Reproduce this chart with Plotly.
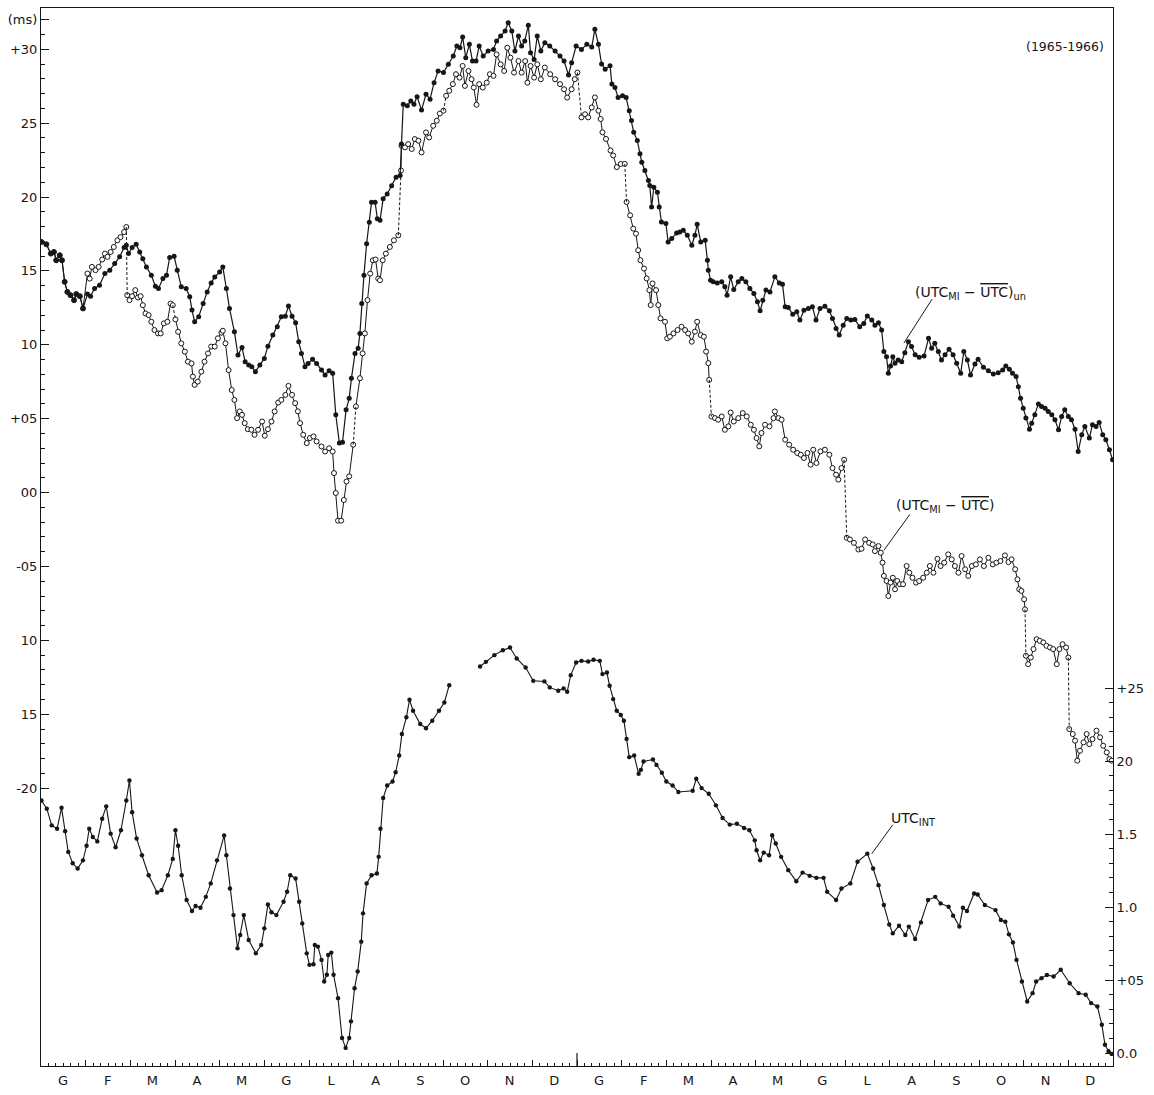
import plotly.graph_objects as go

# ---------------- data ----------------
MONTH_LABELS = ["G", "F", "M", "A", "M", "G", "L", "A", "S", "O", "N", "D"] * 2
LEFT_TICK_VALS = [32, 30, 25, 20, 15, 10, 5, 0, -5, -10, -15, -20]
LEFT_TICK_TEXT = ["(ms)", "+30", "25", "20", "15", "10", "+05", "00", "-05", "10", "15", "-20"]
RIGHT_TICK_VALS = [0, 0.5, 1.0, 1.5, 2.0, 2.5]
RIGHT_TICK_TEXT = ["0.0", "+05", "1.0", "1.5", "20", "+25"]

# (UTC_MI - UTC)_un  : month index (0..24) and value (ms, left axis)
A_m = [0.01, 0.12, 0.22, 0.29, 0.34, 0.42, 0.47, 0.53, 0.59, 0.66, 0.74, 0.79, 0.87, 0.94,
       1.04, 1.11, 1.20, 1.31, 1.43, 1.54, 1.65, 1.76, 1.86, 1.91, 1.96, 2.04, 2.13, 2.21,
       2.28, 2.36, 2.47, 2.56, 2.63, 2.73, 2.81, 2.88, 2.98, 3.05, 3.14, 3.25, 3.33, 3.38,
       3.44, 3.53, 3.63, 3.72, 3.81, 3.89, 4.00, 4.07, 4.15, 4.22, 4.33, 4.41, 4.50, 4.57,
       4.65, 4.72, 4.80, 4.90, 5.00, 5.08, 5.19, 5.29, 5.38, 5.47, 5.54, 5.62, 5.70, 5.77,
       5.83, 5.91, 5.98, 6.08, 6.17, 6.28, 6.36, 6.45, 6.53, 6.60, 6.68, 6.75, 6.83, 6.90,
       6.95, 7.03, 7.10, 7.14, 7.18, 7.23, 7.29, 7.35, 7.40, 7.48, 7.53, 7.59, 7.66, 7.75,
       7.85, 7.95, 8.04, 8.07, 8.11, 8.20, 8.28, 8.35, 8.42, 8.52, 8.62, 8.71, 8.80, 8.89,
       9.01, 9.12, 9.23, 9.31, 9.38, 9.44, 9.51, 9.59, 9.66, 9.74, 9.81, 9.90, 10.01, 10.13,
       10.20, 10.29, 10.39, 10.46, 10.54, 10.61, 10.69, 10.76, 10.83, 10.91, 10.96, 11.04,
       11.11, 11.19, 11.28, 11.39, 11.51, 11.62, 11.71, 11.81, 11.88, 11.98, 12.10, 12.22,
       12.33, 12.40, 12.48, 12.55, 12.63, 12.74, 12.78, 12.85, 12.92, 13.02, 13.10, 13.17,
       13.22, 13.27, 13.35, 13.41, 13.45, 13.52, 13.60, 13.63, 13.67, 13.72, 13.80, 13.84,
       13.89, 13.99, 14.04, 14.12, 14.23, 14.30, 14.38, 14.47, 14.57, 14.64, 14.69, 14.77,
       14.87, 14.92, 14.94, 14.99, 15.05, 15.14, 15.24, 15.31, 15.36, 15.44, 15.51, 15.61,
       15.69, 15.78, 15.87, 15.96, 16.04, 16.10, 16.16, 16.23, 16.32, 16.43, 16.53, 16.60,
       16.66, 16.73, 16.83, 16.92, 16.99, 17.08, 17.18, 17.27, 17.35, 17.44, 17.55, 17.65,
       17.72, 17.80, 17.87, 17.96, 18.04, 18.13, 18.22, 18.33, 18.42, 18.50, 18.60, 18.67,
       18.75, 18.82, 18.87, 18.93, 18.97, 19.02, 19.07, 19.12, 19.19, 19.27, 19.34, 19.42,
       19.49, 19.57, 19.66, 19.77, 19.87, 19.94, 20.01, 20.09, 20.16, 20.24, 20.33, 20.42,
       20.50, 20.59, 20.66, 20.74, 20.81, 20.91, 20.98, 21.10, 21.21, 21.32, 21.43, 21.53,
       21.60, 21.68, 21.75, 21.83, 21.88, 21.93, 21.99, 22.05, 22.13, 22.18, 22.25, 22.33,
       22.40, 22.48, 22.55, 22.63, 22.70, 22.78, 22.85, 22.92, 23.00, 23.07, 23.15, 23.22,
       23.30, 23.37, 23.47, 23.54, 23.62, 23.69, 23.77, 23.84, 23.92, 23.99]
A_v = [16.96, 16.8, 16.17, 16.28, 15.72, 16.06, 15.72, 14.26, 13.58, 13.36, 13.02, 13.43, 13.29, 12.46,
       13.43, 13.29, 13.81, 14.03, 14.82, 15.05, 15.5, 15.95, 16.58, 16.74, 16.17, 16.58, 16.8, 16.28,
       15.83, 15.27, 14.71, 13.97, 13.81, 14.48, 14.71, 15.9, 15.99, 15.05, 13.92, 13.81, 13.25, 12.36,
       11.56, 11.9, 12.8, 13.58, 14.19, 14.59, 14.93, 15.27, 13.81, 12.46, 10.88, 9.31, 9.82, 8.86,
       8.63, 8.52, 8.18, 8.63, 9.08, 9.91, 10.66, 11.22, 11.9, 11.94, 12.62, 11.94, 11.5, 10.2,
       9.42, 8.52, 8.74, 9.02, 8.74, 8.29, 7.96, 8.25, 8.07, 5.26, 3.35, 3.4, 5.6, 6.38,
       7.73, 9.42, 9.76, 10.77, 12.79, 14.7, 16.84, 18.3, 19.65, 19.65, 18.53, 18.42, 19.88, 20.21,
       20.77, 21.34, 21.45, 23.58, 26.28, 26.17, 26.5, 26.28, 26.78, 25.88, 26.96, 26.62, 27.74, 28.53,
       28.42, 28.98, 29.54, 30.22, 30.1, 30.82, 29.43, 30.33, 29.2, 29.2, 30.22, 29.54, 29.88, 29.99,
       30.55, 30.89, 31.23, 31.8, 31.23, 29.88, 30.89, 30.22, 30.55, 31.63, 29.76, 29.31,
       30.89, 29.88, 30.44, 30.22, 29.88, 29.54, 29.2, 28.26, 29.09, 30.22, 29.99, 30.33,
       30.15, 31.35, 30.33, 29.0, 28.65, 28.88, 27.64, 27.41, 26.74, 26.85, 26.74, 25.84,
       25.17, 24.38, 23.82, 22.92, 22.35, 21.79, 21.11, 20.78, 19.32, 20.66, 20.32, 19.32,
       18.31, 18.2, 16.96, 17.19, 17.57, 17.64, 17.75, 17.41, 16.74, 17.41, 18.15, 16.96,
       17.07, 15.72, 15.05, 14.37, 14.26, 14.19, 14.26, 13.92, 13.36, 14.6, 13.74, 14.26,
       14.48, 14.26, 13.81, 13.47, 12.91, 12.3, 13.02, 13.7, 13.58, 14.6, 14.19, 14.1,
       12.57, 12.52, 12.07, 12.23, 11.67, 12.34, 12.45, 12.57, 11.67, 12.45, 12.61, 12.3,
       11.78, 11.11, 10.66, 11.33, 11.78, 11.67, 11.72, 11.22, 11.45, 11.95, 11.67, 11.33,
       11.49, 11.0, 9.54, 9.2, 8.07, 8.57, 9.2, 8.75, 8.97, 8.86, 9.47, 10.21,
       9.88, 9.32, 9.16, 9.25, 10.44, 9.76, 10.1, 9.54, 8.97, 9.32, 9.7, 9.32,
       8.75, 8.07, 9.54, 8.97, 7.96, 8.7, 9.02, 8.48, 8.25, 8.02, 8.11, 8.29,
       8.57, 8.34, 8.07, 7.85, 7.17, 6.38, 5.71, 5.04, 4.29, 4.7, 5.26, 6.0,
       5.83, 5.71, 5.49, 5.26, 4.93, 4.25, 5.15, 5.6, 5.15, 4.93, 4.29, 2.78,
       3.91, 4.48, 3.69, 4.59, 4.48, 4.75, 3.91, 3.58, 2.9, 2.22]

# (UTC_MI - UTC) : None marks a dashed (step-adjustment) jump
B_m = [0.01, 0.12, 0.22, 0.29, 0.34, 0.42, 0.47, 0.53, 0.59, 0.66, 0.74, 0.79, 0.87, 0.94,
       1.04, 1.09, 1.14, 1.22, 1.29, 1.37, 1.43, 1.49, 1.56, 1.63, 1.71, 1.78, 1.86, 1.91, None,
       1.93, 1.98, 2.04, 2.11, 2.17, 2.23, 2.28, 2.34, 2.41, 2.47, 2.54, 2.62, 2.68, 2.75, 2.83,
       2.90, 2.95, None,
       3.01, 3.07, 3.14, 3.22, 3.29, 3.37, 3.40, 3.44, 3.51, 3.59, 3.66, 3.74, 3.81, 3.89, 3.96,
       4.04, 4.07, 4.13, 4.20, 4.27, 4.33, 4.39, 4.45, 4.50, 4.56, 4.63, 4.71, 4.78, 4.86, 4.95,
       5.01, 5.08, 5.16, 5.23, 5.31, 5.38, 5.47, 5.54, 5.62, 5.69, 5.75, 5.80, 5.87, 5.95, 6.02,
       6.10, 6.17, 6.28, 6.36, 6.45, 6.53, 6.56, 6.60, 6.65, 6.72, 6.78, 6.84, 6.90, 6.99, None,
       7.05, 7.14, 7.20, 7.25, 7.31, 7.37, 7.43, 7.49, 7.55, 7.59, 7.65, 7.72, 7.81, 7.90, 8.00, None,
       8.06, 8.07, 8.15, 8.22, 8.30, 8.37, 8.45, 8.52, 8.62, 8.69, 8.78, 8.86, 8.93, 9.01, None,
       9.07, 9.14, 9.22, 9.29, 9.37, 9.44, 9.49, 9.57, 9.64, 9.69, 9.75, 9.81, 9.89, 9.98, 10.05,
       10.13, 10.20, 10.29, 10.37, 10.44, 10.51, 10.59, 10.69, 10.76, 10.84, 10.89, 10.96, 11.04,
       11.11, 11.19, 11.28, 11.40, 11.51, 11.62, 11.71, 11.78, 11.88, 11.95, 12.01, None,
       12.10, 12.18, 12.25, 12.33, 12.40, 12.48, 12.53, 12.57, 12.65, 12.75, 12.81, 12.89, 12.98,
       13.07, None,
       13.11, 13.19, 13.26, 13.32, 13.37, 13.42, 13.50, 13.56, 13.62, 13.65, 13.69, 13.77, 13.82,
       13.87, 13.97, 14.02, 14.08, 14.16, 14.25, 14.34, 14.42, 14.49, 14.57, 14.64, 14.69, 14.77,
       14.84, 14.89, 14.94, 14.96, None,
       15.01, 15.09, 15.16, 15.24, 15.31, 15.39, 15.44, 15.51, 15.61, 15.71, 15.80, 15.89, 15.96,
       16.02, 16.08, 16.13, 16.21, 16.31, 16.40, 16.43, 16.51, 16.58, 16.66, 16.75, 16.84, 16.93,
       17.01, 17.08, 17.16, 17.23, 17.29, 17.36, 17.45, 17.55, 17.65, 17.72, 17.80, 17.85, 17.92,
       17.98, None,
       18.04, 18.11, 18.20, 18.30, 18.37, 18.45, 18.54, 18.62, 18.67, 18.75, 18.80, 18.84, 18.87,
       18.93, 18.97, 19.02, 19.07, 19.12, 19.17, 19.23, 19.30, 19.38, 19.44, 19.51, 19.59, 19.66,
       19.75, 19.83, 19.90, 19.98, 20.07, 20.14, 20.22, 20.31, 20.39, 20.46, 20.54, 20.61, 20.69,
       20.76, 20.84, 20.93, 21.02, 21.11, 21.21, 21.31, 21.39, 21.48, 21.58, 21.66, 21.73, 21.81,
       21.86, 21.90, 21.95, 22.01, 22.03, None,
       22.05, 22.10, 22.16, 22.22, 22.29, 22.36, 22.44, 22.51, 22.59, 22.66, 22.74, 22.80, 22.87,
       22.95, 23.00, None,
       23.02, 23.10, 23.15, 23.20, 23.26, 23.34, 23.41, 23.47, 23.54, 23.63, 23.71, 23.78, 23.86,
       23.92, 23.97]
B_v = [16.96, 16.8, 16.17, 16.28, 15.72, 16.06, 15.72, 14.26, 13.58, 13.36, 13.02, 13.43, 13.29, 12.46,
       14.82, 14.48, 15.27, 15.05, 15.27, 15.77, 16.17, 15.95, 16.28, 16.62, 17.07, 17.29, 17.63, 17.97, None,
       13.36, 13.02, 13.29, 13.7, 13.2, 13.29, 12.68, 12.12, 12.01, 11.56, 11.0, 10.77, 10.77, 11.45, 11.56,
       12.79, 12.68, None,
       11.72, 10.88, 10.1, 9.54, 8.86, 8.74, 7.85, 7.29, 7.51, 8.18, 8.86, 9.42, 9.88, 9.88, 10.44,
       10.82, 10.95, 10.1, 8.29, 6.94, 6.27, 5.04, 5.49, 5.26, 4.7, 4.29, 4.25, 3.91, 4.25, 4.81,
       3.85, 4.29, 4.81, 5.49, 6.09, 6.27, 6.61, 7.22, 6.61, 6.05, 5.5, 4.7, 3.91, 3.35, 3.69,
       3.8, 3.46, 3.12, 2.78, 3.0, 2.78, 1.32, -0.03, -1.9, -1.9, -0.5, 0.75, 1.1, 3.24, None,
       5.83, 7.74, 9.42, 10.77, 13.02, 14.82, 15.72, 15.77, 14.48, 14.37, 15.72, 16.17, 16.62, 17.07, 17.41, None,
       21.79, 23.47, 23.36, 23.58, 23.25, 23.92, 23.81, 23.02, 24.37, 24.03, 24.82, 25.16, 25.65, 25.84, None,
       26.85, 27.19, 27.64, 28.31, 28.08, 28.87, 27.52, 28.53, 27.97, 27.41, 26.24, 27.64, 27.41, 27.74, 28.31,
       28.2, 29.65, 28.98, 28.53, 30.1, 29.43, 28.42, 29.2, 28.42, 29.2, 27.74, 28.87, 28.08,
       28.98, 27.97, 28.76, 28.31, 27.97, 27.64, 27.29, 26.73, 27.29, 27.97, 28.42, None,
       25.39, 25.6, 25.39, 26.06, 26.74, 25.84, 25.28, 24.38, 23.93, 23.15, 22.81, 22.02, 22.24,
       22.24, None,
       19.66, 18.76, 17.86, 17.52, 16.4, 15.72, 15.16, 14.49, 13.7, 12.69, 14.15, 13.7, 12.69,
       11.79, 11.56, 10.44, 10.55, 10.77, 11.0, 11.22, 11.0, 10.77, 10.21, 10.89, 11.56, 10.66,
       10.55, 9.54, 8.76, 7.63, None,
       5.15, 5.04, 4.93, 5.15, 4.25, 4.48, 5.42, 4.81, 5.04, 5.38, 5.15, 4.59, 4.25,
       3.69, 3.13, 4.03, 4.59, 4.48, 5.04, 5.49, 5.04, 4.93, 3.58, 3.24, 2.9, 2.68,
       2.56, 2.34, 2.68, 1.89, 2.9, 2.0, 2.79, 2.9, 2.56, 1.66, 1.21, 0.88, 1.66,
       2.22, None,
       -3.06, -3.17, -3.4, -3.85, -3.8, -3.17, -3.4, -3.51, -3.96, -3.62, -4.07, -4.74, -5.64,
       -5.98, -7.0, -6.09, -5.76, -6.54, -5.98, -6.2, -6.2, -4.97, -5.42, -5.76, -6.09, -5.98,
       -5.76, -5.42, -4.97, -5.42, -4.48, -4.97, -4.74, -4.18, -4.52, -4.97, -5.42, -4.29, -5.19,
       -5.64, -4.97, -4.86, -4.52, -4.97, -4.41, -4.86, -4.74, -4.63, -4.25, -4.7, -4.52, -5.19,
       -5.87, -6.54, -6.65, -7.22, -7.9, None,
       -11.04, -11.61, -11.16, -10.59, -9.92, -10.03, -10.14, -10.37, -10.48, -10.59, -11.61, -10.59, -10.26,
       -10.48, -11.16, None,
       -16.0, -16.34, -16.79, -18.14, -17.47, -16.9, -16.34, -17.02, -16.68, -16.11, -16.56, -17.13, -17.58,
       -18.03, -18.14]

# UTC_INT : right axis; None marks the data gap
C_m = [0.01, 0.13, 0.24, 0.36, 0.46, 0.54, 0.61, 0.71, 0.82, 0.94, 1.02, 1.08, 1.16, 1.26, 1.37,
       1.46, 1.56, 1.67, 1.79, 1.91, 1.98, 2.04, 2.14, 2.26, 2.41, 2.60, 2.70, 2.84, 2.95, 3.01,
       3.07, 3.15, 3.26, 3.38, 3.46, 3.57, 3.69, 3.80, 3.94, 4.10, 4.15, 4.23, 4.31, 4.40, 4.46,
       4.54, 4.65, 4.81, 4.93, 5.00, 5.08, 5.16, 5.27, 5.43, 5.51, 5.58, 5.70, 5.78, 5.85, 5.95,
       6.01, 6.10, 6.13, 6.20, 6.28, 6.34, 6.40, 6.43, 6.50, 6.55, 6.65, 6.74, 6.82, 6.90, 6.94,
       7.02, 7.09, 7.17, 7.21, 7.29, 7.40, 7.52, 7.56, 7.60, 7.66, 7.75, 7.87, 7.94, 8.02, 8.08,
       8.18, 8.25, 8.33, 8.49, 8.62, 8.76, 8.91, 9.03, 9.14, None,
       9.83, 9.96, 10.15, 10.34, 10.50, 10.65, 10.85, 11.02, 11.27, 11.39, 11.58, 11.70, 11.78,
       11.86, 11.98, 12.10, 12.25, 12.37, 12.51, 12.57, 12.67, 12.73, 12.81, 12.89, 12.98, 13.05,
       13.11, 13.17, 13.28, 13.38, 13.43, 13.49, 13.70, 13.78, 13.90, 14.00, 14.14, 14.27, 14.59,
       14.67, 14.79, 14.95, 15.11, 15.26, 15.42, 15.58, 15.74, 15.86, 15.98, 16.02, 16.10, 16.18,
       16.30, 16.37, 16.45, 16.57, 16.73, 16.91, 17.05, 17.21, 17.36, 17.52, 17.60, 17.80, 17.92,
       18.12, 18.28, 18.50, 18.63, 18.75, 18.87, 18.99, 19.07, 19.21, 19.35, 19.43, 19.57, 19.70,
       19.86, 20.02, 20.14, 20.32, 20.42, 20.56, 20.64, 20.73, 20.89, 20.97, 21.13, 21.37, 21.49,
       21.59, 21.67, 21.76, 21.84, 21.96, 22.08, 22.20, 22.28, 22.40, 22.52, 22.67, 22.83, 23.03,
       23.23, 23.39, 23.51, 23.65, 23.75, 23.82, 23.90, 23.97]
C_u = [1.73, 1.674, 1.56, 1.537, 1.68, 1.52, 1.378, 1.30, 1.264, 1.32, 1.42, 1.537, 1.48, 1.45, 1.605,
       1.69, 1.503, 1.41, 1.526, 1.73, 1.867, 1.65, 1.47, 1.355, 1.218, 1.10, 1.116, 1.218, 1.33, 1.526,
       1.42, 1.218, 1.048, 0.973, 1.007, 0.995, 1.07, 1.162, 1.32, 1.49, 1.355, 1.127, 0.945, 0.717, 0.809,
       0.945, 0.774, 0.683, 0.74, 0.854, 1.018, 0.964, 0.945, 1.036, 1.105, 1.218, 1.196, 1.036, 0.888, 0.683,
       0.604, 0.608, 0.74, 0.729, 0.638, 0.49, 0.536, 0.672, 0.688, 0.536, 0.376, 0.103, 0.035, 0.103, 0.217,
       0.444, 0.558, 0.763, 0.957, 1.162, 1.218, 1.23, 1.344, 1.537, 1.747, 1.833, 1.86, 1.924, 2.038, 2.186,
       2.30, 2.42, 2.345, 2.254, 2.225, 2.277, 2.345, 2.402, 2.52, None,
       2.648, 2.68, 2.726, 2.76, 2.778, 2.703, 2.641, 2.55, 2.546, 2.505, 2.482, 2.498, 2.475,
       2.589, 2.676, 2.687, 2.682, 2.694, 2.687, 2.596, 2.607, 2.516, 2.425, 2.345, 2.316, 2.277,
       2.152, 2.027, 2.038, 1.913, 1.94, 1.997, 2.011, 1.974, 1.92, 1.86, 1.833, 1.788, 1.797,
       1.879, 1.815, 1.776, 1.697, 1.61, 1.565, 1.571, 1.542, 1.526, 1.457, 1.389, 1.321, 1.373,
       1.355, 1.492, 1.435, 1.344, 1.253, 1.177, 1.236, 1.214, 1.20, 1.20, 1.105, 1.048, 1.127,
       1.162, 1.31, 1.366, 1.264, 1.15, 1.014, 0.881, 0.82, 0.872, 0.809, 0.866, 0.781, 0.895,
       1.048, 1.07, 1.025, 1.002, 0.941, 0.866, 0.995, 0.973, 1.093, 1.086, 1.014, 0.979, 0.911,
       0.9, 0.813, 0.758, 0.638, 0.49, 0.353, 0.41, 0.49, 0.513, 0.535, 0.524, 0.57, 0.478,
       0.41, 0.399, 0.342, 0.319, 0.194, 0.057, 0.012, -0.006]

# ---------------- styling ----------------
INK = "#161616"
FONT = "DejaVu Sans"
W, H = 1154, 1095
ML, MR, MT, MB = 41, 41, 7, 27
N_MONTHS = len(MONTH_LABELS)
px_per_month = (W - ML - MR) / N_MONTHS

fig = go.Figure()

# (UTC_MI - UTC): solid segments with open circles
fig.add_trace(go.Scatter(
    x=B_m, y=B_v, mode="lines+markers", connectgaps=False,
    line=dict(color=INK, width=1.0),
    marker=dict(symbol="circle", size=5, color="white", line=dict(color=INK, width=1.0)),
    showlegend=False, hoverinfo="skip"))

# dashed connectors across the step adjustments
for i, val in enumerate(B_v):
    if val is None and 0 < i < len(B_v) - 1:
        fig.add_trace(go.Scatter(
            x=[B_m[i - 1], B_m[i + 1]], y=[B_v[i - 1], B_v[i + 1]], mode="lines",
            line=dict(color=INK, width=1.0, dash="3px,2px"),
            showlegend=False, hoverinfo="skip"))

# (UTC_MI - UTC)_un : filled dots
fig.add_trace(go.Scatter(
    x=A_m, y=A_v, mode="lines+markers",
    line=dict(color=INK, width=1.2),
    marker=dict(symbol="circle", size=5, color=INK),
    showlegend=False, hoverinfo="skip"))

# UTC_INT : right axis
fig.add_trace(go.Scatter(
    x=C_m, y=C_u, yaxis="y2", mode="lines+markers", connectgaps=False,
    line=dict(color=INK, width=1.1),
    marker=dict(symbol="circle", size=4.4, color=INK),
    showlegend=False, hoverinfo="skip"))

# ---------------- axes ----------------
fig.update_layout(
    width=W, height=H,
    margin=dict(l=ML, r=MR, t=MT, b=MB, pad=0),
    paper_bgcolor="white", plot_bgcolor="white",
    font=dict(family=FONT, size=13, color=INK),
    xaxis=dict(
        range=[0, N_MONTHS], showgrid=False, zeroline=False,
        showline=True, linecolor=INK, linewidth=1, mirror=True,
        tickmode="array", tickvals=list(range(N_MONTHS + 1)),
        ticktext=MONTH_LABELS + [""],
        ticklabelshift=int(round(px_per_month / 2)), ticklabelstandoff=2,
        ticks="inside", ticklen=6, tickwidth=1, tickcolor=INK,
        tickfont=dict(family=FONT, size=13, color=INK),
        minor=dict(ticks="inside", ticklen=3, tickwidth=1, tickcolor=INK,
                   tick0=0, dtick=1 / 6, showgrid=False),
    ),
    yaxis=dict(
        range=[-38.8, 32.79], showgrid=False, zeroline=False,
        showline=True, linecolor=INK, linewidth=1,
        tickmode="array", tickvals=LEFT_TICK_VALS, ticktext=LEFT_TICK_TEXT,
        ticks="inside", ticklen=8, tickwidth=1, tickcolor=INK,
        tickfont=dict(family=FONT, size=13, color=INK),
        minor=dict(ticks="inside", ticklen=4, tickwidth=1, tickcolor=INK,
                   tickmode="array",
                   tickvals=list(range(min(LEFT_TICK_VALS), max(LEFT_TICK_VALS) + 1)),
                   showgrid=False),
    ),
    yaxis2=dict(
        overlaying="y", side="right", anchor="x",
        range=[-0.089, 7.16], showgrid=False, zeroline=False,
        showline=True, linecolor=INK, linewidth=1,
        tickmode="array", tickvals=RIGHT_TICK_VALS, ticktext=RIGHT_TICK_TEXT,
        ticks="inside", ticklen=8, tickwidth=1, tickcolor=INK,
        tickfont=dict(family=FONT, size=13, color=INK),
        minor=dict(ticks="inside", ticklen=4, tickwidth=1, tickcolor=INK,
                   tickmode="array",
                   tickvals=[k / 10 for k in range(0, int(max(RIGHT_TICK_VALS) * 10) + 1)],
                   showgrid=False),
    ),
)

# longer tick at the year boundary
fig.add_shape(type="line", xref="x", yref="paper",
              x0=N_MONTHS / 2, x1=N_MONTHS / 2, y0=0, y1=13 / (H - MT - MB),
              line=dict(color=INK, width=1.2))

# ---------------- labels ----------------
OV = "<span style='text-decoration:overline'>UTC</span>"
fig.add_annotation(xref="paper", yref="paper", x=0.955, y=0.964,
                   xanchor="center", yanchor="middle",
                   text="(1965-1966)", showarrow=False,
                   font=dict(family=FONT, size=12.5, color=INK))
fig.add_annotation(xref="x", yref="y", x=20.80, y=13.5,
                   text="(UTC<sub>MI</sub> − " + OV + ")<sub>un</sub>", showarrow=False,
                   font=dict(family=FONT, size=14, color=INK))
fig.add_annotation(xref="x", yref="y", x=20.24, y=-0.94,
                   text="(UTC<sub>MI</sub> − " + OV + ")", showarrow=False,
                   font=dict(family=FONT, size=14, color=INK))
fig.add_annotation(xref="x", yref="y2", x=19.54, y=1.60,
                   text="UTC<sub>INT</sub>", showarrow=False,
                   font=dict(family=FONT, size=14, color=INK))

# leader lines
fig.add_shape(type="line", xref="x", yref="y", x0=19.95, y0=13.09, x1=19.32, y1=10.12,
              line=dict(color=INK, width=1))
fig.add_shape(type="line", xref="x", yref="y", x0=19.45, y0=-1.48, x1=18.87, y1=-3.91,
              line=dict(color=INK, width=1))
fig.add_shape(type="line", xref="x", yref="y2", x0=19.07, y0=1.564, x1=18.60, y1=1.366,
              line=dict(color=INK, width=1))

fig.write_html("out.html")
